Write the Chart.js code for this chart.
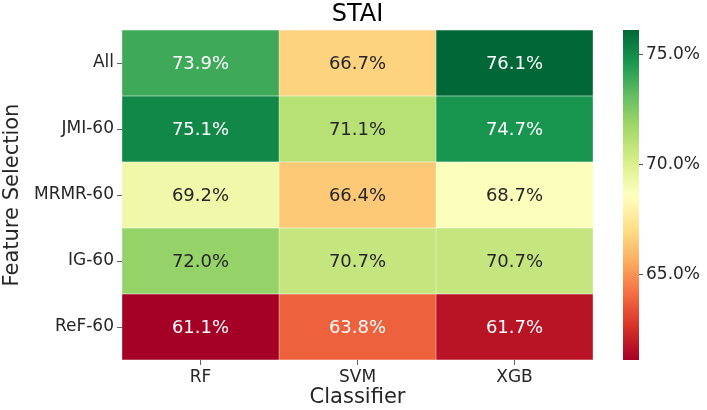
<!doctype html>
<html>
<head>
<meta charset="utf-8">
<title>STAI</title>
<script src="https://cdn.jsdelivr.net/npm/chart.js@4"></script>
<style>
  body { margin: 0; background: #fff; }
  #wrap { position: relative; width: 707px; height: 410px; }
</style>
</head>
<body>
<div id="wrap"><canvas id="heat"></canvas></div>
<script>
var selections = ["All", "JMI-60", "MRMR-60", "IG-60", "ReF-60"];
var classifiers = ["RF", "SVM", "XGB"];
var rf  = [73.9, 75.1, 69.2, 72.0, 61.1];
var svm = [66.7, 71.1, 66.4, 70.7, 63.8];
var xgb = [76.1, 74.7, 68.7, 70.7, 61.7];
var cbTicks = [65, 70, 75];
var vmin = 61.1, vmax = 76.1;

var columns = [rf, svm, xgb];

// RdYlGn anchors
var rdylgn = ["#a50026","#d73027","#f46d43","#fdae61","#fee08b","#ffffbf",
              "#d9ef8b","#a6d96a","#66bd63","#1a9850","#006837"];

function hex2rgb(h) {
    return [parseInt(h.substr(1,2),16), parseInt(h.substr(3,2),16), parseInt(h.substr(5,2),16)];
}
function cmapRgb(v) {
    var t = (v - vmin) / (vmax - vmin);
    t = Math.max(0, Math.min(1, t)) * 10;
    var i = Math.min(9, Math.floor(t));
    var f = t - i;
    var a = hex2rgb(rdylgn[i]), b = hex2rgb(rdylgn[i+1]);
    return [0,1,2].map(function(k){ return Math.round(a[k] + (b[k]-a[k])*f); });
}
function cmap(v) {
    return "rgb(" + cmapRgb(v).join(",") + ")";
}
function textColor(v) {
    // light text on dark cells, like seaborn does it
    var c = cmapRgb(v).map(function(x){
        x = x / 255;
        return x <= 0.03928 ? x / 12.92 : Math.pow((x + 0.055) / 1.055, 2.4);
    });
    var lum = 0.2126*c[0] + 0.7152*c[1] + 0.0722*c[2];
    return lum > 0.408 ? "#262626" : "#ffffff";
}

Chart.defaults.font.family = "'DejaVu Sans', sans-serif";
Chart.defaults.color = "#262626";

var datasets = columns.map(function(col, j) {
    return {
        label: classifiers[j],
        data: col.map(function(){ return [j, j + 1]; }),
        backgroundColor: col.map(cmap),
        borderColor: "rgba(255,255,255,0.8)",
        borderWidth: 0.5,
        borderSkipped: false,
        barPercentage: 1,
        categoryPercentage: 1,
        grouped: false
    };
});

var annotate = {
    id: "annotate",
    afterDatasetsDraw: function(chart) {
        var ctx = chart.ctx, xs = chart.scales.x, ys = chart.scales.y;
        ctx.save();
        ctx.font = "18px 'DejaVu Sans'";
        ctx.textAlign = "center";
        ctx.textBaseline = "middle";
        columns.forEach(function(col, j) {
            col.forEach(function(v, i) {
                ctx.fillStyle = textColor(v);
                ctx.fillText(v.toFixed(1) + "%", xs.getPixelForValue(j + 0.5), ys.getPixelForValue(i) + 1);
            });
        });
        ctx.restore();
    }
};

var colorbar = {
    id: "colorbar",
    afterDraw: function(chart) {
        var ctx = chart.ctx, cb = chart.scales.cb;
        var x0 = chart.chartArea.right + 30, w = 16;
        var top = cb.getPixelForValue(vmax), bottom = cb.getPixelForValue(vmin);
        var g = ctx.createLinearGradient(0, bottom, 0, top);
        rdylgn.forEach(function(c, i){ g.addColorStop(i / 10, c); });
        ctx.save();
        ctx.fillStyle = g;
        ctx.fillRect(x0, top, w, bottom - top);
        ctx.strokeStyle = "#555";
        ctx.lineWidth = 1;
        cbTicks.forEach(function(t) {
            var y = Math.round(cb.getPixelForValue(t)) + 0.5;
            ctx.beginPath();
            ctx.moveTo(x0 + w, y);
            ctx.lineTo(x0 + w + 4, y);
            ctx.stroke();
        });
        ctx.restore();
    }
};

new Chart(document.getElementById("heat"), {
    type: "bar",
    data: { labels: selections, datasets: datasets },
    plugins: [annotate, colorbar],
    options: {
        indexAxis: "y",
        responsive: true,
        maintainAspectRatio: false,
        animation: false,
        layout: { padding: 0 },
        plugins: {
            legend: { display: false },
            tooltip: { enabled: false },
            title: {
                display: true,
                text: "STAI",
                fullSize: false,
                color: "#000",
                font: { size: 24, weight: "normal", lineHeight: 1 },
                padding: { top: 3, bottom: 3 }
            }
        },
        scales: {
            x: {
                type: "linear",
                min: 0,
                max: 3,
                position: "bottom",
                afterBuildTicks: function(s) {
                    s.ticks = classifiers.map(function(c, j){ return { value: j + 0.5 }; });
                },
                ticks: {
                    callback: function(v) { return classifiers[Math.floor(v)]; },
                    font: { size: 17 },
                    padding: 2,
                    maxRotation: 0
                },
                grid: { drawOnChartArea: false, tickLength: 5, color: "#666" },
                border: { display: false },
                title: {
                    display: true,
                    text: "Classifier",
                    font: { size: 21 },
                    padding: { top: 0, bottom: 0 }
                },
                afterFit: function(s) { s.height = 50; }
            },
            y: {
                type: "category",
                offset: true,
                ticks: { font: { size: 17 }, padding: 3 },
                grid: { drawOnChartArea: false, offset: false, tickLength: 5, color: "#666" },
                border: { display: false },
                title: {
                    display: true,
                    text: "Feature Selection",
                    font: { size: 21 },
                    padding: { top: 0, bottom: 0 }
                },
                afterFit: function(s) { s.width = 122; }
            },
            cb: {
                type: "linear",
                axis: "y",
                position: "right",
                min: vmin,
                max: vmax,
                offset: false,
                afterBuildTicks: function(s) {
                    s.ticks = cbTicks.map(function(v){ return { value: v }; });
                },
                ticks: {
                    callback: function(v) { return v.toFixed(1) + "%"; },
                    font: { size: 17 },
                    padding: 4
                },
                grid: { drawOnChartArea: false, offset: false, tickLength: 49, color: "rgba(0,0,0,0)" },
                border: { display: false },
                afterFit: function(s) { s.width = 114; }
            }
        }
    }
});
</script>
</body>
</html>
